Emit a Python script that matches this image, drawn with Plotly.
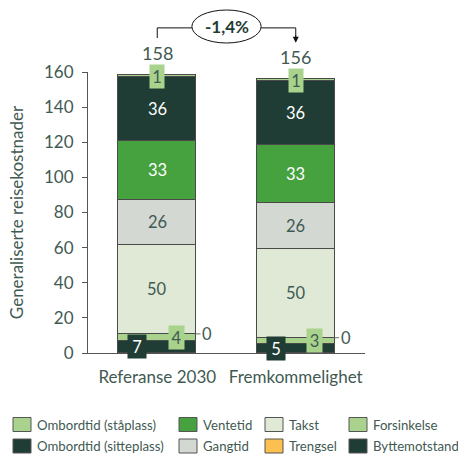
import plotly.graph_objects as go

# Scenarios and cost components (stacked bottom to top)
scenarios = ["Referanse 2030", "Fremkommelighet"]
sitteplass = [7.0, 5.2]      # Ombordtid (sitteplass)
staplass = [3.8, 3.4]        # Ombordtid (ståplass)
trengsel = [0.2, 0.2]
takst = [50.4, 50.4]
gangtid = [26.0, 26.0]
ventetid = [33.3, 33.3]
byttemotstand = [36.4, 36.4]
forsinkelse = [1.0, 1.0]

DARK = "#1f3d34"
MID = "#45a23f"
LIGHT = "#a9d38c"
TAKST_C = "#dfe9d5"
GANG_C = "#d4d8d2"
ORANGE = "#fbc04f"
TXT = "#3f5a52"
FONT = "Lato"

series = [
    ("Ombordtid (sitteplass)", sitteplass, DARK),
    ("Ombordtid (ståplass)", staplass, LIGHT),
    ("Trengsel", trengsel, ORANGE),
    ("Takst", takst, TAKST_C),
    ("Gangtid", gangtid, GANG_C),
    ("Ventetid", ventetid, MID),
    ("Byttemotstand", byttemotstand, DARK),
    ("Forsinkelse", forsinkelse, LIGHT),
]

xs = list(range(len(scenarios)))
BAR_W = 0.56
LBL = 16.5

fig = go.Figure()
for name, vals, col in series:
    fig.add_trace(go.Bar(
        x=xs, y=vals, name=name, width=BAR_W,
        marker=dict(color=col, line=dict(color="#4a4a4a", width=1)),
        showlegend=False, hoverinfo="y+name",
    ))

annotations = []
bases = [0.0] * len(xs)
for name, vals, col in series:
    for i, v in enumerate(vals):
        mid = bases[i] + v / 2
        label = f"{round(v)}"
        if name == "Ombordtid (sitteplass)":
            annotations.append(dict(x=i, y=mid, text=label, showarrow=False, xshift=-20,
                                    bgcolor=DARK, width=14, height=19, borderpad=2,
                                    font=dict(family=FONT, size=LBL, color="white")))
        elif name == "Ombordtid (ståplass)":
            annotations.append(dict(x=i, y=mid, text=label, showarrow=False, xshift=19,
                                    bgcolor=LIGHT, width=11, height=19, borderpad=2,
                                    font=dict(family=FONT, size=LBL, color=TXT)))
        elif name == "Trengsel":
            annotations.append(dict(x=i + BAR_W / 2, y=mid, text=label, showarrow=True,
                                    arrowhead=0, arrowwidth=1, arrowcolor="#6a6a6a",
                                    ax=11, ay=0,
                                    font=dict(family=FONT, size=LBL, color=TXT)))
        elif name == "Forsinkelse":
            annotations.append(dict(x=i, y=mid, text=label, showarrow=False,
                                    bgcolor=LIGHT, width=10, height=19, borderpad=2,
                                    font=dict(family=FONT, size=LBL, color=TXT)))
        else:
            tc = "white" if col in (DARK, MID) else TXT
            annotations.append(dict(x=i, y=mid, text=label, showarrow=False,
                                    font=dict(family=FONT, size=LBL, color=tc)))
        bases[i] += v

# Totals above the bars
totals = bases[:]
for i, t in enumerate(totals):
    annotations.append(dict(x=i, y=t, text=f"{round(t)}", showarrow=False, yshift=22,
                            font=dict(family=FONT, size=18, color=TXT)))

# Relative change between the scenarios
change = (totals[1] - totals[0]) / totals[0] * 100
change_txt = f"{change:.1f}%".replace(".", ",").replace("-", "\u2011")
annotations.append(dict(x=0.5, y=1.162, yref="paper", yanchor="middle", xanchor="center",
                        text=f"<b>{change_txt}</b>", showarrow=False,
                        font=dict(family=FONT, size=17, color=DARK)))
annotations.append(dict(x=1, y=1.104, yref="paper", ax=0, ay=-9,
                        text="", showarrow=True, arrowhead=2, arrowsize=1.2, arrowwidth=1,
                        arrowcolor="#111"))

shapes = [
    dict(type="line", xref="x", yref="paper", x0=0, x1=0, y0=1.121, y1=1.157,
         line=dict(color="#111", width=1)),
    dict(type="line", xref="x", yref="paper", x0=0, x1=0.25, y0=1.157, y1=1.157,
         line=dict(color="#111", width=1)),
    dict(type="line", xref="x", yref="paper", x0=0.75, x1=1, y0=1.157, y1=1.157,
         line=dict(color="#111", width=1)),
    dict(type="line", xref="x", yref="paper", x0=1, x1=1, y0=1.157, y1=1.125,
         line=dict(color="#111", width=1)),
    dict(type="circle", xref="x", yref="paper", x0=0.25, x1=0.75, y0=1.1032, y1=1.2206,
         line=dict(color="#111", width=1), fillcolor="white"),
]

# Legend drawn as swatches in a 4 x 2 grid below the plot
PLOT_L, PLOT_W, PLOT_B, PLOT_H = 88, 277, 353, 281
def px(xp):
    return (xp - PLOT_L) / PLOT_W
def py(yp):
    return (PLOT_B - yp) / PLOT_H

legend_rows = [
    ["Ombordtid (ståplass)", "Ventetid", "Takst", "Forsinkelse"],
    ["Ombordtid (sitteplass)", "Gangtid", "Trengsel", "Byttemotstand"],
]
legend_cols = [13, 179, 265, 349]
row_centers = [424.5, 446]
colour_of = {name: col for name, _, col in series}
for r, row in enumerate(legend_rows):
    for c, name in enumerate(row):
        x0 = legend_cols[c]
        yc = row_centers[r]
        shapes.append(dict(type="rect", xref="paper", yref="paper",
                           x0=px(x0), x1=px(x0 + 18), y0=py(yc - 7), y1=py(yc + 7),
                           fillcolor=colour_of[name], line=dict(color="#555", width=1)))
        annotations.append(dict(xref="paper", yref="paper", x=px(x0 + 22), y=py(yc),
                                xanchor="left", yanchor="middle", text=name, showarrow=False,
                                font=dict(family=FONT, size=13.2, color=TXT)))

fig.update_layout(
    width=458, height=455, autosize=False,
    margin=dict(l=PLOT_L, r=458 - PLOT_L - PLOT_W, t=PLOT_B - PLOT_H, b=455 - PLOT_B),
    barmode="stack", bargap=0,
    plot_bgcolor="white", paper_bgcolor="white",
    font=dict(family=FONT, color=TXT),
    annotations=annotations, shapes=shapes,
    xaxis=dict(range=[-0.5, 1.5], tickvals=xs, ticktext=scenarios, showline=True,
               linecolor="#555", linewidth=1, ticks="", showgrid=False, zeroline=False,
               tickfont=dict(family=FONT, size=17, color=TXT), ticklabelstandoff=9),
    yaxis=dict(range=[0, 160], dtick=20, showline=True, linecolor="#555", linewidth=1,
               ticks="outside", ticklen=5, tickcolor="#555", showgrid=False, zeroline=False,
               tickfont=dict(family=FONT, size=17, color=TXT), ticklabelstandoff=5,
               title=dict(text="Generaliserte reisekostnader", standoff=16,
                          font=dict(family=FONT, size=17, color=TXT))),
)

fig.write_html("out.html")
